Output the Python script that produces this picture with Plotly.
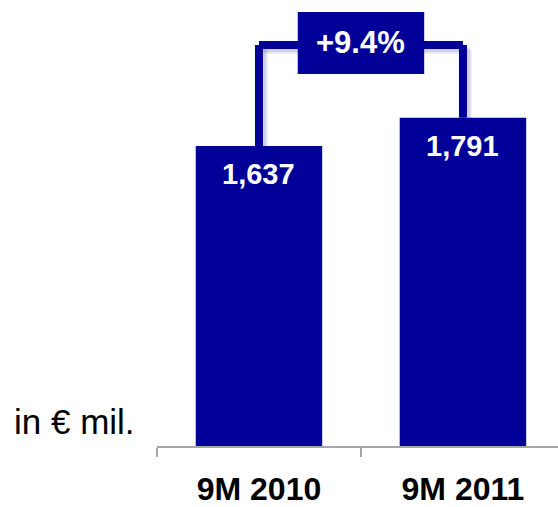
import plotly.graph_objects as go

# Revenue for the first nine months, in EUR millions
periods = ["9M 2010", "9M 2011"]
revenue = [1637, 1791]
value_labels = ["1,637", "1,791"]
growth_label = "+9.4%"

NAVY = "#000099"
FONT = "Liberation Sans, Arial, sans-serif"

Y_MAX = 2379
BRACKET_Y = 2188

fig = go.Figure()
fig.add_trace(go.Bar(
    x=periods,
    y=revenue,
    width=0.62,
    marker=dict(color=NAVY, line=dict(width=0)),
    hoverinfo="skip",
))

# Value labels just inside the top of each bar
for p, v, lab in zip(periods, revenue, value_labels):
    fig.add_annotation(
        x=p, y=v, text="<b>%s</b>" % lab, showarrow=False,
        xref="x", yref="y", yanchor="top", yshift=-10,
        font=dict(family=FONT, size=29, color="white"),
    )

# Growth bracket joining the two bar tops, with a soft drop shadow
bracket = [
    (0, revenue[0], 0, BRACKET_Y),
    (0, BRACKET_Y, 1, BRACKET_Y),
    (1, BRACKET_Y, 1, revenue[1]),
]
for off, alpha, w in [(0.025, 0.07, 8), (0.016, 0.12, 8)]:
    for (ax, ay, bx, by) in bracket:
        fig.add_shape(type="line", xref="x", yref="y",
                      x0=ax + off, y0=ay - off * 1100, x1=bx + off, y1=by - off * 1100,
                      line=dict(color="rgba(0,0,153,%.2f)" % alpha, width=w), layer="below")
for (ax, ay, bx, by) in bracket:
    fig.add_shape(type="line", xref="x", yref="y",
                  x0=ax, y0=ay, x1=bx, y1=by,
                  line=dict(color=NAVY, width=8), layer="below")

# Growth badge
fig.add_shape(type="rect", xref="x", yref="y",
              x0=0.19, x1=0.81, y0=2030, y1=2368,
              fillcolor=NAVY, line=dict(width=0))
fig.add_annotation(
    x=0.5, y=(2030 + 2368) / 2, xref="x", yref="y",
    text="<b>%s</b>" % growth_label, showarrow=False,
    font=dict(family=FONT, size=31, color="white"),
)

# Unit note, left of the plot area
fig.add_annotation(
    x=-0.362, y=0.057, xref="paper", yref="paper", text="in \u20ac mil.",
    showarrow=False, xanchor="left", yanchor="middle",
    font=dict(family=FONT, size=35, color="black"),
)

fig.update_layout(
    width=558, height=507,
    margin=dict(l=157, r=0, t=10, b=61),
    paper_bgcolor="white", plot_bgcolor="white",
    showlegend=False,
)
fig.update_xaxes(
    type="category", range=[-0.5, 1.466],
    showline=True, linecolor="#a6a6a6", linewidth=1.5,
    ticks="outside", tickson="boundaries", ticklen=9, tickcolor="#a6a6a6", tickwidth=1.5,
    tickfont=dict(family=FONT, size=32, color="black"),
    ticklabelstandoff=14,
    tickvals=periods, ticktext=["<b>%s</b>" % p for p in periods],
    showgrid=False, zeroline=False, fixedrange=True,
)
fig.update_yaxes(
    range=[0, Y_MAX], visible=False, showgrid=False, zeroline=False, fixedrange=True,
)

fig.write_html("out.html")
